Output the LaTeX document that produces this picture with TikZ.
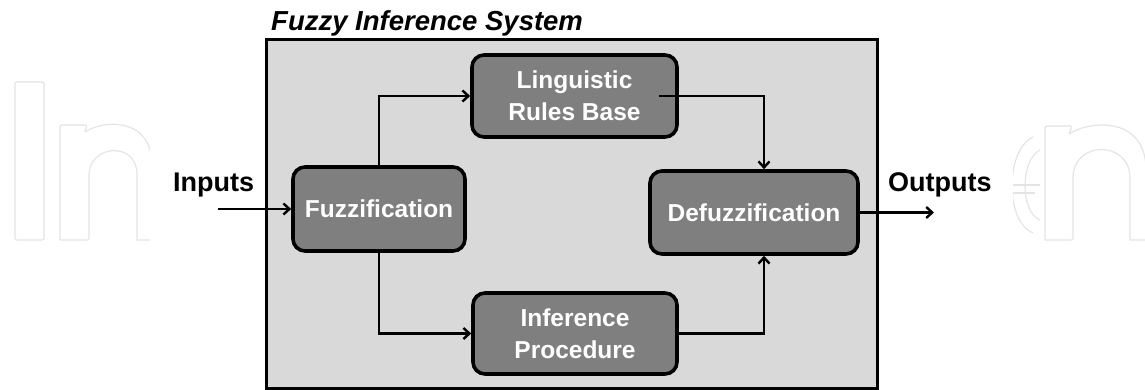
\documentclass[tikz,border=0pt]{standalone}
\usepackage{fontspec}
\setmainfont{Liberation Sans}
\usetikzlibrary{arrows.meta}
\definecolor{framefill}{HTML}{D9D9D9}
\definecolor{boxfill}{HTML}{7F7F7F}
\definecolor{wmline}{HTML}{E4E4E4}
\tikzset{
  fisframe/.style={draw=black, line width=3pt, fill=framefill, rectangle,
    minimum width=611pt, minimum height=348pt, inner sep=0pt},
  stage/.style={draw=black, line width=3.6pt, fill=boxfill, rounded corners=12pt,
    text=white, align=center, inner sep=0pt,
    font=\fontsize{24.5}{32}\selectfont\bfseries},
  conn/.style={draw=black, line width=2.4pt,
    -{Straight Barb[length=6pt,width=11pt,line width=2.4pt]}},
  iolabel/.style={anchor=base west, inner sep=0pt,
    font=\fontsize{27}{30}\selectfont\bfseries},
  wm/.style={draw=wmline, line width=1.2pt, line join=round},
}
\begin{document}
\begin{tikzpicture}[x=1pt, y=-1pt]
\useasboundingbox (0,0) rectangle (1145,390);

% faint background lettering
\begin{scope}
  \clip (0,0) rectangle (150,390);
  \draw[wm, rounded corners=2pt] (15,82) rectangle (44,240);
  \draw[wm, rounded corners=2pt] (60,240) -- (60,125) -- (87,125) -- (85,132);
  \draw[wm] (85,132) .. controls (102,120) and (152,116) .. (152,165) -- (152,240);
  \draw[wm, rounded corners=2pt] (60,240) -- (89,240) -- (89,175);
  \draw[wm] (89,175) .. controls (89,145) and (137,140) .. (137,175) -- (137,240) -- (152,240);
\end{scope}
\begin{scope}
  \clip (1013,0) rectangle (1145,390);
  \draw[wm] (1033,137) .. controls (1005,150) and (1005,222) .. (1033,233);
  \draw[wm] (1040,150) .. controls (1020,160) and (1020,212) .. (1040,220);
  \draw[wm] (1013,185) -- (1040,185);
  \draw[wm] (1013,193) -- (1035,193);
  \draw[wm, rounded corners=2pt] (1045,240) -- (1045,126) -- (1072,126) -- (1069,134);
  \draw[wm] (1069,134) .. controls (1090,120) and (1146,116) .. (1146,170) -- (1146,240);
  \draw[wm, rounded corners=2pt] (1045,240) -- (1073,240) -- (1073,178);
  \draw[wm] (1073,178) .. controls (1073,140) and (1130,140) .. (1130,178) -- (1130,240) -- (1146,240);
\end{scope}

% system frame and its title
\node[fisframe] (fis) at (571.5,214) {};
\node[anchor=base west, inner sep=0pt,
      font=\fontsize{27.5}{30}\selectfont\bfseries\itshape] (title) at (271,31)
      {Fuzzy Inference System};

% processing stages
\node[stage, minimum width=172pt, minimum height=84pt] (fuzz)   at (379,209)   {Fuzzification};
\node[stage, minimum width=205pt, minimum height=82pt] (rules)  at (574.5,96)  {Linguistic\\Rules Base};
\node[stage, minimum width=204pt, minimum height=81pt] (infer)  at (575,333.5) {Inference\\Procedure};
\node[stage, minimum width=208pt, minimum height=83pt] (defuzz) at (754,212.5) {Defuzzification};

% external labels
\node[iolabel] (inlbl)  at (173,192) {Inputs};
\node[iolabel] (outlbl) at (888,192) {Outputs};
\coordinate (insrc) at (218,209);
\coordinate (outdst) at (934,212.5);

% signal flow
\draw[conn] (insrc) -- (fuzz.west);
\draw[conn] (fuzz.north) |- (rules.west);
\draw[conn] (fuzz.south) |- (infer.west);
\draw[conn] ([xshift=-20pt]rules.east) -| ([xshift=10pt]defuzz.north);
\draw[conn] (infer.east) -| ([xshift=10pt]defuzz.south);
\draw[conn] (defuzz.east) -- (outdst);
\end{tikzpicture}
\end{document}
